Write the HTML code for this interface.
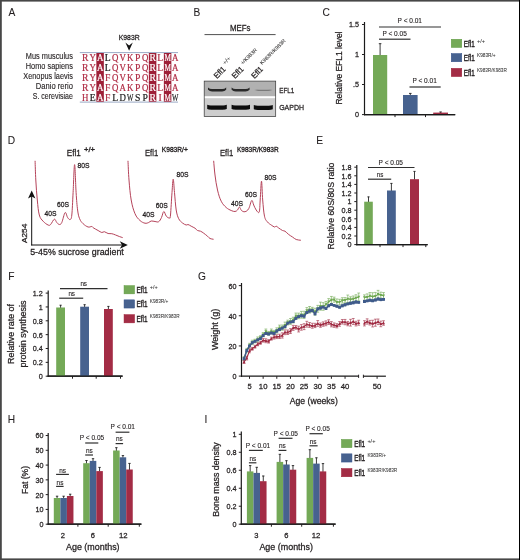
<!DOCTYPE html>
<html lang="en">
<head>
<meta charset="utf-8">
<title>Efl1 K983R figure</title>
<style>
html,body{margin:0;padding:0;background:#fff;}
body{width:520px;height:560px;overflow:hidden;}
svg{display:block;font-family:"Liberation Sans",sans-serif;fill:#231f20;}
text{stroke:#231f20;stroke-width:0.26px;}
</style>
</head>
<body>
<svg width="520" height="560" viewBox="0 0 520 560">
<rect x="0" y="0" width="520" height="560" fill="#ffffff"/>
<rect x="0" y="0" width="520" height="1.6" fill="#474747"/>
<rect x="0" y="0" width="1.8" height="560" fill="#474747"/>
<rect x="0" y="558.4" width="520" height="1.6" fill="#474747"/>
<rect x="519" y="0" width="1" height="560" fill="#000000"/>
<text x="8.40" y="16.00" font-size="10.2" style="stroke-width:0.08px;">A</text>
<text x="193.50" y="15.60" font-size="10.2" style="stroke-width:0.08px;">B</text>
<text x="322.60" y="15.60" font-size="10.2" style="stroke-width:0.08px;">C</text>
<text x="7.80" y="143.80" font-size="10.2" style="stroke-width:0.08px;">D</text>
<text x="316.20" y="143.80" font-size="10.2" style="stroke-width:0.08px;">E</text>
<text x="8.20" y="279.60" font-size="10.2" style="stroke-width:0.08px;">F</text>
<text x="198.00" y="279.60" font-size="10.2" style="stroke-width:0.08px;">G</text>
<text x="7.80" y="423.20" font-size="10.2" style="stroke-width:0.08px;">H</text>
<text x="204.40" y="423.20" font-size="10.2" style="stroke-width:0.08px;">I</text>
<text x="72.90" y="58.90" font-size="8.2" text-anchor="end" textLength="47.10" lengthAdjust="spacingAndGlyphs" style="stroke-width:0.12px;">Mus musculus</text>
<text x="72.90" y="68.70" font-size="8.2" text-anchor="end" textLength="47.10" lengthAdjust="spacingAndGlyphs" style="stroke-width:0.12px;">Homo sapiens</text>
<text x="72.90" y="78.80" font-size="8.2" text-anchor="end" textLength="49.60" lengthAdjust="spacingAndGlyphs" style="stroke-width:0.12px;">Xenopus laevis</text>
<text x="72.90" y="88.80" font-size="8.2" text-anchor="end" textLength="37.10" lengthAdjust="spacingAndGlyphs" style="stroke-width:0.12px;">Danio rerio</text>
<text x="72.90" y="98.80" font-size="8.2" text-anchor="end" textLength="40.10" lengthAdjust="spacingAndGlyphs" style="stroke-width:0.12px;">S. cerevisiae</text>
<line x1="79.80" y1="52.60" x2="178.00" y2="52.60" stroke="#7f93b6" stroke-width="0.8"/>
<line x1="79.80" y1="102.10" x2="178.00" y2="102.10" stroke="#7f93b6" stroke-width="0.8"/>
<rect x="96.35" y="53.00" width="7.50" height="48.70" fill="#9e2038"/>
<rect x="148.85" y="53.00" width="7.50" height="48.70" fill="#9e2038"/>
<rect x="163.85" y="53.00" width="7.50" height="48.70" fill="#9e2038"/>
<text x="81.90 89.40 96.90 104.64 111.90 119.40 126.90 134.90 141.90 149.40 157.14 164.40 171.90" y="61.00" font-size="9.7" font-family="Liberation Serif, serif" style="stroke-width:0.2px"><tspan fill="#b02c44" style="stroke:#b02c44" textLength="6.4" lengthAdjust="spacingAndGlyphs">R</tspan><tspan fill="#b02c44" style="stroke:#b02c44" textLength="6.4" lengthAdjust="spacingAndGlyphs">Y</tspan><tspan fill="#ffffff" style="stroke:#ffffff" textLength="6.4" lengthAdjust="spacingAndGlyphs">A</tspan><tspan fill="#1a1a1a" style="stroke:#1a1a1a">L</tspan><tspan fill="#b02c44" style="stroke:#b02c44" textLength="6.4" lengthAdjust="spacingAndGlyphs">Q</tspan><tspan fill="#b02c44" style="stroke:#b02c44" textLength="6.4" lengthAdjust="spacingAndGlyphs">V</tspan><tspan fill="#b02c44" style="stroke:#b02c44" textLength="6.4" lengthAdjust="spacingAndGlyphs">K</tspan><tspan fill="#b02c44" style="stroke:#b02c44">P</tspan><tspan fill="#b02c44" style="stroke:#b02c44" textLength="6.4" lengthAdjust="spacingAndGlyphs">Q</tspan><tspan fill="#ffffff" style="stroke:#ffffff" textLength="6.4" lengthAdjust="spacingAndGlyphs">R</tspan><tspan fill="#b02c44" style="stroke:#b02c44">L</tspan><tspan fill="#ffffff" style="stroke:#ffffff" textLength="6.4" lengthAdjust="spacingAndGlyphs">M</tspan><tspan fill="#b02c44" style="stroke:#b02c44" textLength="6.4" lengthAdjust="spacingAndGlyphs">A</tspan></text>
<text x="81.90 89.40 96.90 104.64 111.90 119.40 126.90 134.90 141.90 149.40 157.14 164.40 171.90" y="70.80" font-size="9.7" font-family="Liberation Serif, serif" style="stroke-width:0.2px"><tspan fill="#b02c44" style="stroke:#b02c44" textLength="6.4" lengthAdjust="spacingAndGlyphs">R</tspan><tspan fill="#b02c44" style="stroke:#b02c44" textLength="6.4" lengthAdjust="spacingAndGlyphs">Y</tspan><tspan fill="#ffffff" style="stroke:#ffffff" textLength="6.4" lengthAdjust="spacingAndGlyphs">A</tspan><tspan fill="#1a1a1a" style="stroke:#1a1a1a">L</tspan><tspan fill="#b02c44" style="stroke:#b02c44" textLength="6.4" lengthAdjust="spacingAndGlyphs">Q</tspan><tspan fill="#b02c44" style="stroke:#b02c44" textLength="6.4" lengthAdjust="spacingAndGlyphs">V</tspan><tspan fill="#b02c44" style="stroke:#b02c44" textLength="6.4" lengthAdjust="spacingAndGlyphs">K</tspan><tspan fill="#b02c44" style="stroke:#b02c44">P</tspan><tspan fill="#b02c44" style="stroke:#b02c44" textLength="6.4" lengthAdjust="spacingAndGlyphs">Q</tspan><tspan fill="#ffffff" style="stroke:#ffffff" textLength="6.4" lengthAdjust="spacingAndGlyphs">R</tspan><tspan fill="#b02c44" style="stroke:#b02c44">L</tspan><tspan fill="#ffffff" style="stroke:#ffffff" textLength="6.4" lengthAdjust="spacingAndGlyphs">M</tspan><tspan fill="#b02c44" style="stroke:#b02c44" textLength="6.4" lengthAdjust="spacingAndGlyphs">A</tspan></text>
<text x="81.90 89.40 96.90 104.90 111.90 119.40 126.90 134.90 141.90 149.40 157.14 164.40 171.90" y="80.90" font-size="9.7" font-family="Liberation Serif, serif" style="stroke-width:0.2px"><tspan fill="#b02c44" style="stroke:#b02c44" textLength="6.4" lengthAdjust="spacingAndGlyphs">R</tspan><tspan fill="#b02c44" style="stroke:#b02c44" textLength="6.4" lengthAdjust="spacingAndGlyphs">Y</tspan><tspan fill="#ffffff" style="stroke:#ffffff" textLength="6.4" lengthAdjust="spacingAndGlyphs">A</tspan><tspan fill="#b02c44" style="stroke:#b02c44">F</tspan><tspan fill="#b02c44" style="stroke:#b02c44" textLength="6.4" lengthAdjust="spacingAndGlyphs">Q</tspan><tspan fill="#b02c44" style="stroke:#b02c44" textLength="6.4" lengthAdjust="spacingAndGlyphs">V</tspan><tspan fill="#b02c44" style="stroke:#b02c44" textLength="6.4" lengthAdjust="spacingAndGlyphs">K</tspan><tspan fill="#b02c44" style="stroke:#b02c44">P</tspan><tspan fill="#b02c44" style="stroke:#b02c44" textLength="6.4" lengthAdjust="spacingAndGlyphs">Q</tspan><tspan fill="#ffffff" style="stroke:#ffffff" textLength="6.4" lengthAdjust="spacingAndGlyphs">R</tspan><tspan fill="#b02c44" style="stroke:#b02c44">L</tspan><tspan fill="#ffffff" style="stroke:#ffffff" textLength="6.4" lengthAdjust="spacingAndGlyphs">M</tspan><tspan fill="#b02c44" style="stroke:#b02c44" textLength="6.4" lengthAdjust="spacingAndGlyphs">A</tspan></text>
<text x="81.90 89.40 96.90 104.90 111.90 119.40 126.90 134.90 141.90 149.40 157.14 164.40 171.90" y="90.90" font-size="9.7" font-family="Liberation Serif, serif" style="stroke-width:0.2px"><tspan fill="#b02c44" style="stroke:#b02c44" textLength="6.4" lengthAdjust="spacingAndGlyphs">R</tspan><tspan fill="#b02c44" style="stroke:#b02c44" textLength="6.4" lengthAdjust="spacingAndGlyphs">Y</tspan><tspan fill="#ffffff" style="stroke:#ffffff" textLength="6.4" lengthAdjust="spacingAndGlyphs">A</tspan><tspan fill="#b02c44" style="stroke:#b02c44">F</tspan><tspan fill="#b02c44" style="stroke:#b02c44" textLength="6.4" lengthAdjust="spacingAndGlyphs">Q</tspan><tspan fill="#b02c44" style="stroke:#b02c44" textLength="6.4" lengthAdjust="spacingAndGlyphs">A</tspan><tspan fill="#b02c44" style="stroke:#b02c44" textLength="6.4" lengthAdjust="spacingAndGlyphs">K</tspan><tspan fill="#b02c44" style="stroke:#b02c44">P</tspan><tspan fill="#b02c44" style="stroke:#b02c44" textLength="6.4" lengthAdjust="spacingAndGlyphs">Q</tspan><tspan fill="#ffffff" style="stroke:#ffffff" textLength="6.4" lengthAdjust="spacingAndGlyphs">R</tspan><tspan fill="#b02c44" style="stroke:#b02c44">L</tspan><tspan fill="#ffffff" style="stroke:#ffffff" textLength="6.4" lengthAdjust="spacingAndGlyphs">M</tspan><tspan fill="#b02c44" style="stroke:#b02c44" textLength="6.4" lengthAdjust="spacingAndGlyphs">A</tspan></text>
<text x="81.90 89.64 96.90 104.90 112.14 119.40 126.90 134.90 142.40 149.40 158.48 164.40 171.90" y="100.90" font-size="9.7" font-family="Liberation Serif, serif" style="stroke-width:0.2px"><tspan fill="#b02c44" style="stroke:#b02c44" textLength="6.4" lengthAdjust="spacingAndGlyphs">H</tspan><tspan fill="#1a1a1a" style="stroke:#1a1a1a">E</tspan><tspan fill="#ffffff" style="stroke:#ffffff" textLength="6.4" lengthAdjust="spacingAndGlyphs">A</tspan><tspan fill="#b02c44" style="stroke:#b02c44">F</tspan><tspan fill="#1a1a1a" style="stroke:#1a1a1a">L</tspan><tspan fill="#1a1a1a" style="stroke:#1a1a1a" textLength="6.4" lengthAdjust="spacingAndGlyphs">D</tspan><tspan fill="#1a1a1a" style="stroke:#1a1a1a" textLength="6.4" lengthAdjust="spacingAndGlyphs">W</tspan><tspan fill="#1a1a1a" style="stroke:#1a1a1a">SP</tspan><tspan fill="#ffffff" style="stroke:#ffffff" textLength="6.4" lengthAdjust="spacingAndGlyphs">R</tspan><tspan fill="#b02c44" style="stroke:#b02c44">I</tspan><tspan fill="#ffffff" style="stroke:#ffffff" textLength="6.4" lengthAdjust="spacingAndGlyphs">M</tspan><tspan fill="#1a1a1a" style="stroke:#1a1a1a" textLength="6.4" lengthAdjust="spacingAndGlyphs">W</tspan></text>
<text x="129.20" y="40.00" font-size="7.4" text-anchor="middle" textLength="21.00" lengthAdjust="spacingAndGlyphs">K983R</text>
<path d="M129.1 50.8 L125.4 42.6 L129.1 45.4 L132.8 42.6 Z" fill="#111"/>
<text x="240.20" y="30.60" font-size="9" text-anchor="middle" textLength="20.60" lengthAdjust="spacingAndGlyphs">MEFs</text>
<line x1="204.50" y1="34.60" x2="275.60" y2="34.60" stroke="#222" stroke-width="0.8"/>
<g transform="translate(217.00 78.90) rotate(-45)">
<text x="0" y="0" font-size="8" textLength="13.00" lengthAdjust="spacingAndGlyphs">Efl1</text>
<text x="15.20" y="-4.40" font-size="5.2" textLength="9.00" lengthAdjust="spacingAndGlyphs" style="stroke-width:0.05px" fill="#333">+/+</text>
</g>
<g transform="translate(235.00 78.90) rotate(-45)">
<text x="0" y="0" font-size="8" textLength="13.00" lengthAdjust="spacingAndGlyphs">Efl1</text>
<text x="15.20" y="-4.40" font-size="5.2" textLength="21.00" lengthAdjust="spacingAndGlyphs" style="stroke-width:0.05px" fill="#333">+/K983R</text>
</g>
<g transform="translate(254.40 78.90) rotate(-45)">
<text x="0" y="0" font-size="8" textLength="13.00" lengthAdjust="spacingAndGlyphs">Efl1</text>
<text x="15.20" y="-4.40" font-size="5.2" textLength="34.00" lengthAdjust="spacingAndGlyphs" style="stroke-width:0.05px" fill="#333">K983R/K983R</text>
</g>
<defs><filter id="bl" x="-20%" y="-100%" width="140%" height="300%"><feGaussianBlur stdDeviation="0.7 0.55"/></filter><filter id="bl2" x="-20%" y="-100%" width="140%" height="300%"><feGaussianBlur stdDeviation="0.9 0.6"/></filter></defs>
<rect x="204.20" y="81.10" width="71.50" height="35.50" fill="#ffffff"/>
<rect x="204.20" y="81.10" width="71.50" height="15.10" fill="#b1b1b1"/>
<rect x="204.20" y="98.20" width="71.50" height="18.40" fill="#cdcdcd"/>
<path d="M208.00 87.40 Q209.60 89.00 212.00 89.00 L222.20 89.00 Q224.60 89.00 226.20 87.40 L226.20 89.80 Q224.60 91.40 222.20 91.40 L212.00 91.40 Q209.60 91.40 208.00 89.80 Z" fill="#262626" filter="url(#bl)"/>
<path d="M231.60 87.40 Q233.20 89.00 235.60 89.00 L245.60 89.00 Q248.00 89.00 249.60 87.40 L249.60 89.80 Q248.00 91.40 245.60 91.40 L235.60 91.40 Q233.20 91.40 231.60 89.80 Z" fill="#2a2a2a" filter="url(#bl)"/>
<path d="M256.00 89.25 Q257.60 89.75 260.00 89.75 L267.00 89.75 Q269.40 89.75 271.00 89.25 L271.00 90.55 Q269.40 91.05 267.00 91.05 L260.00 91.05 Q257.60 91.05 256.00 90.55 Z" fill="#7a7a7a" filter="url(#bl2)"/>
<path d="M207.20 104.80 Q208.80 105.60 211.20 105.60 L222.80 105.60 Q225.20 105.60 226.80 104.80 L226.80 109.00 Q225.20 109.80 222.80 109.80 L211.20 109.80 Q208.80 109.80 207.20 109.00 Z" fill="#0c0c0c" filter="url(#bl)"/>
<path d="M231.60 104.80 Q233.20 105.60 235.60 105.60 L246.00 105.60 Q248.40 105.60 250.00 104.80 L250.00 109.00 Q248.40 109.80 246.00 109.80 L235.60 109.80 Q233.20 109.80 231.60 109.00 Z" fill="#0c0c0c" filter="url(#bl)"/>
<path d="M253.80 105.00 Q255.40 105.80 257.80 105.80 L268.80 105.80 Q271.20 105.80 272.80 105.00 L272.80 109.20 Q271.20 110.00 268.80 110.00 L257.80 110.00 Q255.40 110.00 253.80 109.20 Z" fill="#0c0c0c" filter="url(#bl)"/>
<rect x="204.2" y="81.1" width="71.5" height="35.5" fill="none" stroke="#333" stroke-width="0.7"/>
<text x="279.20" y="93.10" font-size="8" textLength="15.00" lengthAdjust="spacingAndGlyphs">EFL1</text>
<text x="279.20" y="109.70" font-size="8" textLength="24.80" lengthAdjust="spacingAndGlyphs">GAPDH</text>
<line x1="364.50" y1="22.00" x2="364.50" y2="115.20" stroke="#1a1a1a" stroke-width="1.2"/>
<line x1="363.90" y1="114.60" x2="455.20" y2="114.60" stroke="#1a1a1a" stroke-width="1.2"/>
<line x1="362.00" y1="24.50" x2="364.50" y2="24.50" stroke="#231f20" stroke-width="1.0"/>
<text x="358.90" y="27.38" font-size="8" text-anchor="end" textLength="10.01" lengthAdjust="spacingAndGlyphs">1.5</text>
<line x1="362.00" y1="54.50" x2="364.50" y2="54.50" stroke="#231f20" stroke-width="1.0"/>
<text x="358.90" y="57.38" font-size="8" text-anchor="end" textLength="4.00" lengthAdjust="spacingAndGlyphs">1</text>
<line x1="362.00" y1="84.50" x2="364.50" y2="84.50" stroke="#231f20" stroke-width="1.0"/>
<text x="358.90" y="87.38" font-size="8" text-anchor="end" textLength="6.00" lengthAdjust="spacingAndGlyphs">.5</text>
<line x1="362.00" y1="114.60" x2="364.50" y2="114.60" stroke="#231f20" stroke-width="1.0"/>
<text x="358.90" y="117.48" font-size="8" text-anchor="end" textLength="4.00" lengthAdjust="spacingAndGlyphs">0</text>
<line x1="395.00" y1="114.60" x2="395.00" y2="117.10" stroke="#231f20" stroke-width="1.0"/>
<line x1="425.50" y1="114.60" x2="425.50" y2="117.10" stroke="#231f20" stroke-width="1.0"/>
<line x1="380.10" y1="43.50" x2="380.10" y2="55.50" stroke="#262626" stroke-width="0.9"/>
<line x1="378.80" y1="43.70" x2="381.40" y2="43.70" stroke="#262626" stroke-width="0.9"/>
<rect x="373.00" y="55.00" width="14.20" height="59.60" fill="#74a957"/>
<line x1="410.30" y1="93.20" x2="410.30" y2="95.50" stroke="#262626" stroke-width="0.9"/>
<line x1="409.00" y1="93.40" x2="411.60" y2="93.40" stroke="#262626" stroke-width="0.9"/>
<rect x="403.00" y="95.00" width="14.60" height="19.60" fill="#47628f"/>
<line x1="440.60" y1="111.80" x2="440.60" y2="113.10" stroke="#262626" stroke-width="0.9"/>
<line x1="439.30" y1="112.00" x2="441.90" y2="112.00" stroke="#262626" stroke-width="0.9"/>
<rect x="433.20" y="112.60" width="14.80" height="2.00" fill="#a32c45"/>
<line x1="364.00" y1="114.60" x2="455.20" y2="114.60" stroke="#1a1a1a" stroke-width="1.2"/>
<text x="341.80" y="68.00" font-size="9" text-anchor="middle" textLength="73.00" lengthAdjust="spacingAndGlyphs" transform="rotate(-90 341.80 68.00)">Relative EFL1 level</text>
<line x1="379.00" y1="27.00" x2="441.00" y2="27.00" stroke="#303030" stroke-width="1.2"/>
<text x="409.80" y="23.40" font-size="7" text-anchor="middle" textLength="24.40" lengthAdjust="spacingAndGlyphs" style="stroke-width:0.12px;">P &lt; 0.01</text>
<line x1="379.00" y1="39.20" x2="410.50" y2="39.20" stroke="#303030" stroke-width="1.2"/>
<text x="394.60" y="35.60" font-size="7" text-anchor="middle" textLength="24.40" lengthAdjust="spacingAndGlyphs" style="stroke-width:0.12px;">P &lt; 0.05</text>
<line x1="409.50" y1="87.00" x2="440.70" y2="87.00" stroke="#303030" stroke-width="1.2"/>
<text x="424.60" y="83.40" font-size="7" text-anchor="middle" textLength="24.40" lengthAdjust="spacingAndGlyphs" style="stroke-width:0.12px;">P &lt; 0.01</text>
<rect x="451.25" y="39.25" width="10.50" height="8.20" fill="#74a957" stroke="#5f9a40" stroke-width="0.5"/>
<g transform="translate(463.80 46.70)">
<text x="0" y="0" font-size="8.8" textLength="10.90" lengthAdjust="spacingAndGlyphs" font-weight="normal" style="stroke-width:0.4px">Efl1</text>
<text x="13.20" y="-3.90" font-size="5.2" textLength="8.00" lengthAdjust="spacingAndGlyphs" style="stroke-width:0.05px" fill="#333">+/+</text>
</g>
<rect x="451.25" y="53.55" width="10.50" height="8.20" fill="#47628f" stroke="#33508a" stroke-width="0.5"/>
<g transform="translate(463.80 61.00)">
<text x="0" y="0" font-size="8.8" textLength="10.90" lengthAdjust="spacingAndGlyphs" font-weight="normal" style="stroke-width:0.4px">Efl1</text>
<text x="13.20" y="-3.90" font-size="5.2" textLength="18.60" lengthAdjust="spacingAndGlyphs" style="stroke-width:0.05px" fill="#333">K983R/+</text>
</g>
<rect x="451.25" y="68.35" width="10.50" height="8.20" fill="#a32c45" stroke="#9c1c34" stroke-width="0.5"/>
<g transform="translate(463.80 75.80)">
<text x="0" y="0" font-size="8.8" textLength="10.90" lengthAdjust="spacingAndGlyphs" font-weight="normal" style="stroke-width:0.4px">Efl1</text>
<text x="13.20" y="-3.90" font-size="5.2" textLength="29.80" lengthAdjust="spacingAndGlyphs" style="stroke-width:0.05px" fill="#333">K983R/K983R</text>
</g>
<path d="M35.10 161.20 C35.23 164.58 35.40 173.02 35.80 180.00 C36.20 186.98 36.67 193.70 37.30 200.00 C37.93 206.30 38.26 211.18 39.30 215.00 C40.34 218.82 41.52 219.40 43.10 221.20 C44.68 223.00 46.75 224.41 48.10 225.00 C49.45 225.59 49.48 225.54 50.60 224.50 C51.72 223.46 53.18 219.56 54.30 219.20 C55.42 218.84 55.90 221.55 56.80 222.50 C57.70 223.45 58.40 224.50 59.30 224.50 C60.20 224.50 60.76 224.64 61.80 222.50 C62.84 220.36 64.06 213.50 65.10 212.60 C66.14 211.70 66.70 216.26 67.60 217.50 C68.50 218.74 69.34 219.95 70.10 219.50 C70.86 219.05 71.26 219.86 71.80 215.00 C72.34 210.14 72.60 201.57 73.10 192.50 C73.60 183.43 74.06 164.60 74.60 164.60 C75.14 164.60 75.56 184.33 76.10 192.50 C76.64 200.67 76.97 205.28 77.60 210.00 C78.23 214.72 78.61 216.23 79.60 218.70 C80.59 221.17 81.57 222.21 83.10 223.70 C84.63 225.19 86.53 226.50 88.10 227.00 C89.67 227.50 90.81 226.32 91.80 226.50 C92.79 226.68 92.47 227.28 93.60 228.00 C94.73 228.72 96.62 229.69 98.10 230.50 C99.58 231.31 100.68 232.28 101.80 232.50 C102.92 232.72 103.17 231.52 104.30 231.70 C105.43 231.88 106.75 233.14 108.10 233.50 C109.45 233.86 110.45 233.43 111.80 233.70 C113.15 233.97 114.25 234.50 115.60 235.00 C116.95 235.50 118.09 236.05 119.30 236.50 C120.51 236.95 121.76 237.32 122.30 237.50" fill="none" stroke="#b5435a" stroke-width="1.0" stroke-linejoin="round" stroke-linecap="round"/>
<path d="M128.00 161.20 C128.18 164.58 128.42 173.02 129.00 180.00 C129.58 186.98 130.12 193.93 131.20 200.00 C132.28 206.07 133.42 210.01 135.00 213.70 C136.58 217.39 138.20 218.79 140.00 220.50 C141.80 222.21 143.43 222.84 145.00 223.20 C146.57 223.56 147.58 222.90 148.70 222.50 C149.82 222.10 150.07 221.18 151.20 221.00 C152.33 220.82 153.65 221.37 155.00 221.50 C156.35 221.63 157.53 222.42 158.70 221.70 C159.87 220.98 160.58 219.34 161.50 217.50 C162.42 215.66 162.94 211.73 163.80 211.50 C164.66 211.27 165.27 215.03 166.30 216.20 C167.33 217.37 168.74 218.22 169.50 218.00 C170.26 217.78 170.05 219.59 170.50 215.00 C170.95 210.41 171.51 198.94 172.00 192.50 C172.49 186.06 172.75 179.20 173.20 179.20 C173.65 179.20 173.96 186.96 174.50 192.50 C175.04 198.04 175.44 205.28 176.20 210.00 C176.96 214.72 177.57 216.36 178.70 218.70 C179.83 221.04 181.15 221.87 182.50 223.00 C183.85 224.13 185.21 224.73 186.20 225.00 C187.19 225.27 187.10 224.28 188.00 224.50 C188.90 224.72 189.94 225.53 191.20 226.20 C192.46 226.87 193.87 227.43 195.00 228.20 C196.13 228.97 196.51 229.96 197.50 230.50 C198.49 231.04 199.38 230.71 200.50 231.20 C201.62 231.69 202.44 232.30 203.70 233.20 C204.96 234.10 206.37 235.25 207.50 236.20 C208.63 237.15 208.97 237.96 210.00 238.50 C211.03 239.04 212.62 239.07 213.20 239.20" fill="none" stroke="#b5435a" stroke-width="1.0" stroke-linejoin="round" stroke-linecap="round"/>
<path d="M213.70 161.20 C213.93 163.68 214.32 169.82 215.00 175.00 C215.68 180.18 216.38 185.28 217.50 190.00 C218.62 194.72 219.63 198.05 221.20 201.20 C222.77 204.35 224.40 205.83 226.20 207.50 C228.00 209.17 229.62 209.78 231.20 210.50 C232.78 211.22 233.87 211.59 235.00 211.50 C236.13 211.41 236.69 210.81 237.50 210.00 C238.31 209.19 238.78 206.91 239.50 207.00 C240.22 207.09 240.51 209.65 241.50 210.50 C242.49 211.35 243.70 212.02 245.00 211.70 C246.30 211.38 247.49 210.72 248.70 208.70 C249.91 206.68 250.80 201.17 251.70 200.50 C252.60 199.83 252.89 203.29 253.70 205.00 C254.51 206.71 255.21 208.74 256.20 210.00 C257.19 211.26 258.48 213.80 259.20 212.00 C259.92 210.20 259.79 205.54 260.20 200.00 C260.61 194.46 261.05 181.20 261.50 181.20 C261.95 181.20 262.16 193.70 262.70 200.00 C263.24 206.30 263.64 212.24 264.50 216.20 C265.36 220.16 266.29 220.42 267.50 222.00 C268.71 223.58 269.94 224.10 271.20 225.00 C272.46 225.90 273.60 226.78 274.50 227.00 C275.40 227.22 275.44 226.02 276.20 226.20 C276.96 226.38 277.57 227.23 278.70 228.00 C279.83 228.77 281.37 229.92 282.50 230.50 C283.63 231.08 283.88 230.48 285.00 231.20 C286.12 231.92 287.35 233.46 288.70 234.50 C290.05 235.54 291.15 236.10 292.50 237.00 C293.85 237.90 294.76 238.92 296.20 239.50 C297.64 240.08 299.73 240.07 300.50 240.20" fill="none" stroke="#b5435a" stroke-width="1.0" stroke-linejoin="round" stroke-linecap="round"/>
<g transform="translate(66.80 155.60)">
<text x="0" y="0" font-size="9" textLength="14.00" lengthAdjust="spacingAndGlyphs">Efl1</text>
<text x="17.20" y="-3.40" font-size="6.4" textLength="11.00" lengthAdjust="spacingAndGlyphs" style="stroke-width:0.3px">+/+</text>
</g>
<g transform="translate(145.00 155.60)">
<text x="0" y="0" font-size="9" textLength="13.20" lengthAdjust="spacingAndGlyphs">Efl1</text>
<text x="16.80" y="-3.40" font-size="6.4" textLength="26.00" lengthAdjust="spacingAndGlyphs" style="stroke-width:0.3px">K983R/+</text>
</g>
<g transform="translate(220.00 155.60)">
<text x="0" y="0" font-size="9" textLength="13.20" lengthAdjust="spacingAndGlyphs">Efl1</text>
<text x="17.00" y="-3.40" font-size="6.4" textLength="41.60" lengthAdjust="spacingAndGlyphs" style="stroke-width:0.3px">K983R/K983R</text>
</g>
<text x="77.60" y="167.60" font-size="7" textLength="12.00" lengthAdjust="spacingAndGlyphs">80S</text>
<text x="57.00" y="207.20" font-size="7" textLength="12.00" lengthAdjust="spacingAndGlyphs">60S</text>
<text x="44.60" y="216.40" font-size="7" textLength="12.00" lengthAdjust="spacingAndGlyphs">40S</text>
<text x="176.50" y="177.20" font-size="7" textLength="12.00" lengthAdjust="spacingAndGlyphs">80S</text>
<text x="155.80" y="207.60" font-size="7" textLength="12.00" lengthAdjust="spacingAndGlyphs">60S</text>
<text x="142.60" y="216.60" font-size="7" textLength="12.00" lengthAdjust="spacingAndGlyphs">40S</text>
<text x="264.60" y="180.20" font-size="7" textLength="12.00" lengthAdjust="spacingAndGlyphs">80S</text>
<text x="245.00" y="196.80" font-size="7" textLength="12.00" lengthAdjust="spacingAndGlyphs">60S</text>
<text x="231.00" y="205.60" font-size="7" textLength="12.00" lengthAdjust="spacingAndGlyphs">40S</text>
<line x1="31.70" y1="245.40" x2="31.70" y2="196.00" stroke="#111" stroke-width="1.0"/>
<path d="M31.7 190.6 L28.0 198.6 L31.7 196.4 L35.4 198.6 Z" fill="#111"/>
<line x1="31.20" y1="245.00" x2="122.00" y2="245.00" stroke="#111" stroke-width="1.0"/>
<path d="M127.8 245 L119.8 241.3 L122.0 245 L119.8 248.7 Z" fill="#111"/>
<text x="27.20" y="233.40" font-size="8" text-anchor="middle" textLength="19.40" lengthAdjust="spacingAndGlyphs" transform="rotate(-90 27.20 233.40)">A254</text>
<text x="30.20" y="254.70" font-size="9" textLength="93.60" lengthAdjust="spacingAndGlyphs">5-45% sucrose gradient</text>
<line x1="356.80" y1="165.00" x2="356.80" y2="245.20" stroke="#1a1a1a" stroke-width="1.2"/>
<line x1="356.20" y1="244.60" x2="427.60" y2="244.60" stroke="#1a1a1a" stroke-width="1.2"/>
<line x1="354.30" y1="244.60" x2="356.80" y2="244.60" stroke="#231f20" stroke-width="1.0"/>
<text x="351.50" y="247.48" font-size="8" text-anchor="end" textLength="4.00" lengthAdjust="spacingAndGlyphs">0</text>
<line x1="354.30" y1="236.00" x2="356.80" y2="236.00" stroke="#231f20" stroke-width="1.0"/>
<text x="351.50" y="238.88" font-size="8" text-anchor="end" textLength="10.01" lengthAdjust="spacingAndGlyphs">0.2</text>
<line x1="354.30" y1="227.40" x2="356.80" y2="227.40" stroke="#231f20" stroke-width="1.0"/>
<text x="351.50" y="230.28" font-size="8" text-anchor="end" textLength="10.01" lengthAdjust="spacingAndGlyphs">0.4</text>
<line x1="354.30" y1="218.80" x2="356.80" y2="218.80" stroke="#231f20" stroke-width="1.0"/>
<text x="351.50" y="221.68" font-size="8" text-anchor="end" textLength="10.01" lengthAdjust="spacingAndGlyphs">0.6</text>
<line x1="354.30" y1="210.20" x2="356.80" y2="210.20" stroke="#231f20" stroke-width="1.0"/>
<text x="351.50" y="213.08" font-size="8" text-anchor="end" textLength="10.01" lengthAdjust="spacingAndGlyphs">0.8</text>
<line x1="354.30" y1="201.60" x2="356.80" y2="201.60" stroke="#231f20" stroke-width="1.0"/>
<text x="351.50" y="204.48" font-size="8" text-anchor="end" textLength="4.00" lengthAdjust="spacingAndGlyphs">1</text>
<line x1="354.30" y1="193.00" x2="356.80" y2="193.00" stroke="#231f20" stroke-width="1.0"/>
<text x="351.50" y="195.88" font-size="8" text-anchor="end" textLength="10.01" lengthAdjust="spacingAndGlyphs">1.2</text>
<line x1="354.30" y1="184.40" x2="356.80" y2="184.40" stroke="#231f20" stroke-width="1.0"/>
<text x="351.50" y="187.28" font-size="8" text-anchor="end" textLength="10.01" lengthAdjust="spacingAndGlyphs">1.4</text>
<line x1="354.30" y1="175.80" x2="356.80" y2="175.80" stroke="#231f20" stroke-width="1.0"/>
<text x="351.50" y="178.68" font-size="8" text-anchor="end" textLength="10.01" lengthAdjust="spacingAndGlyphs">1.6</text>
<line x1="354.30" y1="167.20" x2="356.80" y2="167.20" stroke="#231f20" stroke-width="1.0"/>
<text x="351.50" y="170.08" font-size="8" text-anchor="end" textLength="10.01" lengthAdjust="spacingAndGlyphs">1.8</text>
<line x1="380.00" y1="244.60" x2="380.00" y2="247.10" stroke="#231f20" stroke-width="1.0"/>
<line x1="403.00" y1="244.60" x2="403.00" y2="247.10" stroke="#231f20" stroke-width="1.0"/>
<line x1="425.80" y1="244.60" x2="425.80" y2="247.10" stroke="#231f20" stroke-width="1.0"/>
<line x1="368.50" y1="196.70" x2="368.50" y2="202.20" stroke="#262626" stroke-width="0.9"/>
<line x1="367.40" y1="196.90" x2="369.60" y2="196.90" stroke="#262626" stroke-width="0.9"/>
<rect x="364.20" y="201.70" width="8.60" height="42.90" fill="#74a957"/>
<line x1="391.40" y1="183.20" x2="391.40" y2="191.00" stroke="#262626" stroke-width="0.9"/>
<line x1="390.30" y1="183.40" x2="392.50" y2="183.40" stroke="#262626" stroke-width="0.9"/>
<rect x="387.00" y="190.50" width="8.80" height="54.10" fill="#47628f"/>
<line x1="414.50" y1="171.20" x2="414.50" y2="179.70" stroke="#262626" stroke-width="0.9"/>
<line x1="413.40" y1="171.40" x2="415.60" y2="171.40" stroke="#262626" stroke-width="0.9"/>
<rect x="410.00" y="179.20" width="9.00" height="65.40" fill="#a32c45"/>
<line x1="356.30" y1="244.60" x2="427.60" y2="244.60" stroke="#1a1a1a" stroke-width="1.2"/>
<text x="334.20" y="206.00" font-size="9" text-anchor="middle" textLength="87.00" lengthAdjust="spacingAndGlyphs" transform="rotate(-90 334.20 206.00)">Relative 60S/80S ratio</text>
<line x1="368.00" y1="167.50" x2="414.50" y2="167.50" stroke="#303030" stroke-width="1.2"/>
<text x="390.80" y="164.50" font-size="7" text-anchor="middle" textLength="24.40" lengthAdjust="spacingAndGlyphs" style="stroke-width:0.12px;">P &lt; 0.05</text>
<line x1="368.00" y1="179.20" x2="391.20" y2="179.20" stroke="#303030" stroke-width="1.2"/>
<text x="380.00" y="176.80" font-size="7" text-anchor="middle" textLength="6.60" lengthAdjust="spacingAndGlyphs" style="stroke-width:0.12px;">ns</text>
<line x1="48.20" y1="290.50" x2="48.20" y2="376.80" stroke="#1a1a1a" stroke-width="1.2"/>
<line x1="47.60" y1="376.20" x2="122.60" y2="376.20" stroke="#1a1a1a" stroke-width="1.2"/>
<line x1="45.70" y1="376.20" x2="48.20" y2="376.20" stroke="#231f20" stroke-width="1.0"/>
<text x="42.70" y="379.08" font-size="8" text-anchor="end" textLength="4.00" lengthAdjust="spacingAndGlyphs">0</text>
<line x1="45.70" y1="362.35" x2="48.20" y2="362.35" stroke="#231f20" stroke-width="1.0"/>
<text x="42.70" y="365.23" font-size="8" text-anchor="end" textLength="10.01" lengthAdjust="spacingAndGlyphs">0.2</text>
<line x1="45.70" y1="348.50" x2="48.20" y2="348.50" stroke="#231f20" stroke-width="1.0"/>
<text x="42.70" y="351.38" font-size="8" text-anchor="end" textLength="10.01" lengthAdjust="spacingAndGlyphs">0.4</text>
<line x1="45.70" y1="334.65" x2="48.20" y2="334.65" stroke="#231f20" stroke-width="1.0"/>
<text x="42.70" y="337.53" font-size="8" text-anchor="end" textLength="10.01" lengthAdjust="spacingAndGlyphs">0.6</text>
<line x1="45.70" y1="320.80" x2="48.20" y2="320.80" stroke="#231f20" stroke-width="1.0"/>
<text x="42.70" y="323.68" font-size="8" text-anchor="end" textLength="10.01" lengthAdjust="spacingAndGlyphs">0.8</text>
<line x1="45.70" y1="306.95" x2="48.20" y2="306.95" stroke="#231f20" stroke-width="1.0"/>
<text x="42.70" y="309.83" font-size="8" text-anchor="end" textLength="4.00" lengthAdjust="spacingAndGlyphs">1</text>
<line x1="45.70" y1="293.10" x2="48.20" y2="293.10" stroke="#231f20" stroke-width="1.0"/>
<text x="42.70" y="295.98" font-size="8" text-anchor="end" textLength="10.01" lengthAdjust="spacingAndGlyphs">1.2</text>
<line x1="72.50" y1="376.20" x2="72.50" y2="378.70" stroke="#231f20" stroke-width="1.0"/>
<line x1="96.20" y1="376.20" x2="96.20" y2="378.70" stroke="#231f20" stroke-width="1.0"/>
<line x1="120.50" y1="376.20" x2="120.50" y2="378.70" stroke="#231f20" stroke-width="1.0"/>
<line x1="60.60" y1="305.00" x2="60.60" y2="308.00" stroke="#262626" stroke-width="0.9"/>
<line x1="59.50" y1="305.20" x2="61.70" y2="305.20" stroke="#262626" stroke-width="0.9"/>
<rect x="56.20" y="307.50" width="8.80" height="68.70" fill="#74a957"/>
<line x1="84.60" y1="304.50" x2="84.60" y2="307.20" stroke="#262626" stroke-width="0.9"/>
<line x1="83.50" y1="304.70" x2="85.70" y2="304.70" stroke="#262626" stroke-width="0.9"/>
<rect x="80.20" y="306.70" width="8.80" height="69.50" fill="#47628f"/>
<line x1="108.40" y1="306.20" x2="108.40" y2="309.50" stroke="#262626" stroke-width="0.9"/>
<line x1="107.30" y1="306.40" x2="109.50" y2="306.40" stroke="#262626" stroke-width="0.9"/>
<rect x="104.00" y="309.00" width="8.80" height="67.20" fill="#a32c45"/>
<line x1="47.70" y1="376.20" x2="122.60" y2="376.20" stroke="#1a1a1a" stroke-width="1.2"/>
<text x="14.40" y="334.00" font-size="9" text-anchor="middle" textLength="60.00" lengthAdjust="spacingAndGlyphs" transform="rotate(-90 14.40 334.00)">Relative rate of</text>
<text x="26.10" y="334.00" font-size="9" text-anchor="middle" textLength="67.00" lengthAdjust="spacingAndGlyphs" transform="rotate(-90 26.10 334.00)">protein synthesis</text>
<line x1="60.00" y1="288.70" x2="107.50" y2="288.70" stroke="#303030" stroke-width="1.2"/>
<text x="83.70" y="286.10" font-size="7" text-anchor="middle" textLength="6.60" lengthAdjust="spacingAndGlyphs" style="stroke-width:0.12px;">ns</text>
<line x1="59.20" y1="298.20" x2="83.20" y2="298.20" stroke="#303030" stroke-width="1.2"/>
<text x="71.70" y="295.60" font-size="7" text-anchor="middle" textLength="6.60" lengthAdjust="spacingAndGlyphs" style="stroke-width:0.12px;">ns</text>
<rect x="124.05" y="285.65" width="10.50" height="8.20" fill="#74a957" stroke="#5f9a40" stroke-width="0.5"/>
<g transform="translate(136.60 293.10)">
<text x="0" y="0" font-size="8.8" textLength="10.90" lengthAdjust="spacingAndGlyphs" font-weight="normal" style="stroke-width:0.4px">Efl1</text>
<text x="13.20" y="-3.90" font-size="5.2" textLength="8.00" lengthAdjust="spacingAndGlyphs" style="stroke-width:0.05px" fill="#333">+/+</text>
</g>
<rect x="124.05" y="299.85" width="10.50" height="8.20" fill="#47628f" stroke="#33508a" stroke-width="0.5"/>
<g transform="translate(136.60 307.30)">
<text x="0" y="0" font-size="8.8" textLength="10.90" lengthAdjust="spacingAndGlyphs" font-weight="normal" style="stroke-width:0.4px">Efl1</text>
<text x="13.20" y="-3.90" font-size="5.2" textLength="18.60" lengthAdjust="spacingAndGlyphs" style="stroke-width:0.05px" fill="#333">K983R/+</text>
</g>
<rect x="124.05" y="314.65" width="10.50" height="8.20" fill="#a32c45" stroke="#9c1c34" stroke-width="0.5"/>
<g transform="translate(136.60 322.10)">
<text x="0" y="0" font-size="8.8" textLength="10.90" lengthAdjust="spacingAndGlyphs" font-weight="normal" style="stroke-width:0.4px">Efl1</text>
<text x="13.20" y="-3.90" font-size="5.2" textLength="29.80" lengthAdjust="spacingAndGlyphs" style="stroke-width:0.05px" fill="#333">K983R/K983R</text>
</g>
<line x1="241.50" y1="283.00" x2="241.50" y2="376.80" stroke="#1a1a1a" stroke-width="1.2"/>
<line x1="238.80" y1="376.10" x2="241.50" y2="376.10" stroke="#231f20" stroke-width="1.0"/>
<text x="236.40" y="379.00" font-size="8" text-anchor="end" textLength="4.00" lengthAdjust="spacingAndGlyphs">0</text>
<line x1="238.80" y1="345.94" x2="241.50" y2="345.94" stroke="#231f20" stroke-width="1.0"/>
<text x="236.40" y="348.84" font-size="8" text-anchor="end" textLength="8.01" lengthAdjust="spacingAndGlyphs">20</text>
<line x1="238.80" y1="315.78" x2="241.50" y2="315.78" stroke="#231f20" stroke-width="1.0"/>
<text x="236.40" y="318.68" font-size="8" text-anchor="end" textLength="8.01" lengthAdjust="spacingAndGlyphs">40</text>
<line x1="238.80" y1="285.62" x2="241.50" y2="285.62" stroke="#231f20" stroke-width="1.0"/>
<text x="236.40" y="288.52" font-size="8" text-anchor="end" textLength="8.01" lengthAdjust="spacingAndGlyphs">60</text>
<line x1="241.00" y1="376.20" x2="358.60" y2="376.20" stroke="#1a1a1a" stroke-width="1.2"/>
<line x1="358.60" y1="374.70" x2="358.60" y2="377.90" stroke="#231f20" stroke-width="1.0"/>
<line x1="363.40" y1="376.20" x2="385.90" y2="376.20" stroke="#1a1a1a" stroke-width="1.2"/>
<line x1="363.40" y1="374.70" x2="363.40" y2="377.90" stroke="#231f20" stroke-width="1.0"/>
<line x1="249.50" y1="376.20" x2="249.50" y2="378.80" stroke="#231f20" stroke-width="1.0"/>
<text x="249.50" y="389.20" font-size="8" text-anchor="middle" textLength="4.20" lengthAdjust="spacingAndGlyphs">5</text>
<line x1="263.15" y1="376.20" x2="263.15" y2="378.80" stroke="#231f20" stroke-width="1.0"/>
<text x="263.15" y="389.20" font-size="8" text-anchor="middle" textLength="8.60" lengthAdjust="spacingAndGlyphs">10</text>
<line x1="276.80" y1="376.20" x2="276.80" y2="378.80" stroke="#231f20" stroke-width="1.0"/>
<text x="276.80" y="389.20" font-size="8" text-anchor="middle" textLength="8.60" lengthAdjust="spacingAndGlyphs">15</text>
<line x1="290.45" y1="376.20" x2="290.45" y2="378.80" stroke="#231f20" stroke-width="1.0"/>
<text x="290.45" y="389.20" font-size="8" text-anchor="middle" textLength="8.60" lengthAdjust="spacingAndGlyphs">20</text>
<line x1="304.10" y1="376.20" x2="304.10" y2="378.80" stroke="#231f20" stroke-width="1.0"/>
<text x="304.10" y="389.20" font-size="8" text-anchor="middle" textLength="8.60" lengthAdjust="spacingAndGlyphs">25</text>
<line x1="317.75" y1="376.20" x2="317.75" y2="378.80" stroke="#231f20" stroke-width="1.0"/>
<text x="317.75" y="389.20" font-size="8" text-anchor="middle" textLength="8.60" lengthAdjust="spacingAndGlyphs">30</text>
<line x1="331.40" y1="376.20" x2="331.40" y2="378.80" stroke="#231f20" stroke-width="1.0"/>
<text x="331.40" y="389.20" font-size="8" text-anchor="middle" textLength="8.60" lengthAdjust="spacingAndGlyphs">35</text>
<line x1="345.05" y1="376.20" x2="345.05" y2="378.80" stroke="#231f20" stroke-width="1.0"/>
<text x="345.05" y="389.20" font-size="8" text-anchor="middle" textLength="8.60" lengthAdjust="spacingAndGlyphs">40</text>
<line x1="377.10" y1="376.20" x2="377.10" y2="378.80" stroke="#231f20" stroke-width="1.0"/>
<text x="377.10" y="389.20" font-size="8" text-anchor="middle" textLength="8.60" lengthAdjust="spacingAndGlyphs">50</text>
<text x="313.80" y="403.60" font-size="9" text-anchor="middle" textLength="48.00" lengthAdjust="spacingAndGlyphs">Age (weeks)</text>
<text x="218.40" y="329.40" font-size="9" text-anchor="middle" textLength="41.40" lengthAdjust="spacingAndGlyphs" transform="rotate(-90 218.40 329.40)">Weight (g)</text>
<path d="M244.04 360.39V356.61M242.64 360.39h2.80M242.64 356.61h2.80M246.77 352.21V348.42M245.37 352.21h2.80M245.37 348.42h2.80M249.50 347.89V343.33M248.10 347.89h2.80M248.10 343.33h2.80M252.23 344.62V340.22M250.83 344.62h2.80M250.83 340.22h2.80M254.96 342.87V339.25M253.56 342.87h2.80M253.56 339.25h2.80M257.69 342.11V336.97M256.29 342.11h2.80M256.29 336.97h2.80M260.42 339.16V335.72M259.02 339.16h2.80M259.02 335.72h2.80M263.15 336.73V332.56M261.75 336.73h2.80M261.75 332.56h2.80M265.88 334.05V329.03M264.48 334.05h2.80M264.48 329.03h2.80M268.61 335.19V331.43M267.21 335.19h2.80M267.21 331.43h2.80M271.34 333.66V329.03M269.94 333.66h2.80M269.94 329.03h2.80M274.07 334.01V330.36M272.67 334.01h2.80M272.67 330.36h2.80M276.80 333.09V327.83M275.40 333.09h2.80M275.40 327.83h2.80M279.53 330.72V325.11M278.13 330.72h2.80M278.13 325.11h2.80M282.26 330.24V325.00M280.86 330.24h2.80M280.86 325.00h2.80M284.99 328.27V322.14M283.59 328.27h2.80M283.59 322.14h2.80M287.72 324.93V320.16M286.32 324.93h2.80M286.32 320.16h2.80M290.45 324.38V318.49M289.05 324.38h2.80M289.05 318.49h2.80M293.18 322.93V317.21M291.78 322.93h2.80M291.78 317.21h2.80M295.91 318.86V313.07M294.51 318.86h2.80M294.51 313.07h2.80M298.64 318.67V313.13M297.24 318.67h2.80M297.24 313.13h2.80M301.37 318.13V311.39M299.97 318.13h2.80M299.97 311.39h2.80M304.10 318.43V311.26M302.70 318.43h2.80M302.70 311.26h2.80M306.83 313.47V307.58M305.43 313.47h2.80M305.43 307.58h2.80M309.56 313.08V306.51M308.16 313.08h2.80M308.16 306.51h2.80M312.29 312.13V307.32M310.89 312.13h2.80M310.89 307.32h2.80M315.02 315.13V308.23M313.62 315.13h2.80M313.62 308.23h2.80M317.75 312.22V305.38M316.35 312.22h2.80M316.35 305.38h2.80M320.48 310.20V302.13M319.08 310.20h2.80M319.08 302.13h2.80M323.21 310.28V302.65M321.81 310.28h2.80M321.81 302.65h2.80M325.94 307.41V301.45M324.54 307.41h2.80M324.54 301.45h2.80M328.67 304.91V298.62M327.27 304.91h2.80M327.27 298.62h2.80M331.40 303.68V296.44M330.00 303.68h2.80M330.00 296.44h2.80M334.13 302.20V297.12M332.73 302.20h2.80M332.73 297.12h2.80M336.86 305.48V298.94M335.46 305.48h2.80M335.46 298.94h2.80M339.59 304.87V299.30M338.19 304.87h2.80M338.19 299.30h2.80M342.32 303.12V297.72M340.92 303.12h2.80M340.92 297.72h2.80M345.05 302.80V297.60M343.65 302.80h2.80M343.65 297.60h2.80M347.78 302.62V295.05M346.38 302.62h2.80M346.38 295.05h2.80M350.51 302.20V296.76M349.11 302.20h2.80M349.11 296.76h2.80M353.24 301.80V295.97M351.84 301.80h2.80M351.84 295.97h2.80M355.97 301.05V294.74M354.57 301.05h2.80M354.57 294.74h2.80M358.70 300.94V293.02M357.30 300.94h2.80M357.30 293.02h2.80M364.43 300.16V294.88M363.03 300.16h2.80M363.03 294.88h2.80M367.16 300.41V293.90M365.76 300.41h2.80M365.76 293.90h2.80M369.89 299.39V292.55M368.49 299.39h2.80M368.49 292.55h2.80M372.62 300.69V292.73M371.22 300.69h2.80M371.22 292.73h2.80M375.35 300.15V292.41M373.95 300.15h2.80M373.95 292.41h2.80M378.08 298.26V290.37M376.68 298.26h2.80M376.68 290.37h2.80M380.81 298.09V292.16M379.41 298.09h2.80M379.41 292.16h2.80M383.54 298.98V292.59M382.14 298.98h2.80M382.14 292.59h2.80" fill="none" stroke="#6fa851" stroke-width="0.6"/>
<path d="M244.04 358.50 L246.77 350.31 L249.50 345.61 L252.23 342.42 L254.96 341.06 L257.69 339.54 L260.42 337.44 L263.15 334.65 L265.88 331.54 L268.61 333.31 L271.34 331.34 L274.07 332.19 L276.80 330.46 L279.53 327.92 L282.26 327.62 L284.99 325.20 L287.72 322.54 L290.45 321.43 L293.18 320.07 L295.91 315.97 L298.64 315.90 L301.37 314.76 L304.10 314.85 L306.83 310.52 L309.56 309.80 L312.29 309.72 L315.02 311.68 L317.75 308.80 L320.48 306.16 L323.21 306.46 L325.94 304.43 L328.67 301.77 L331.40 300.06 L334.13 299.66 L336.86 302.21 L339.59 302.09 L342.32 300.42 L345.05 300.20 L347.78 298.84 L350.51 299.48 L353.24 298.88 L355.97 297.90 L358.70 296.98" fill="none" stroke="#6fa851" stroke-width="1.1" stroke-linejoin="round"/>
<path d="M364.43 297.52 L367.16 297.16 L369.89 295.97 L372.62 296.71 L375.35 296.28 L378.08 294.32 L380.81 295.12 L383.54 295.79" fill="none" stroke="#6fa851" stroke-width="1.1" stroke-linejoin="round"/>
<path d="M244.04 360.00l1.50 -2.70h-3.00zM246.77 351.81l1.50 -2.70h-3.00zM249.50 347.11l1.50 -2.70h-3.00zM252.23 343.92l1.50 -2.70h-3.00zM254.96 342.56l1.50 -2.70h-3.00zM257.69 341.04l1.50 -2.70h-3.00zM260.42 338.94l1.50 -2.70h-3.00zM263.15 336.15l1.50 -2.70h-3.00zM265.88 333.04l1.50 -2.70h-3.00zM268.61 334.81l1.50 -2.70h-3.00zM271.34 332.84l1.50 -2.70h-3.00zM274.07 333.69l1.50 -2.70h-3.00zM276.80 331.96l1.50 -2.70h-3.00zM279.53 329.42l1.50 -2.70h-3.00zM282.26 329.12l1.50 -2.70h-3.00zM284.99 326.70l1.50 -2.70h-3.00zM287.72 324.04l1.50 -2.70h-3.00zM290.45 322.93l1.50 -2.70h-3.00zM293.18 321.57l1.50 -2.70h-3.00zM295.91 317.47l1.50 -2.70h-3.00zM298.64 317.40l1.50 -2.70h-3.00zM301.37 316.26l1.50 -2.70h-3.00zM304.10 316.35l1.50 -2.70h-3.00zM306.83 312.02l1.50 -2.70h-3.00zM309.56 311.30l1.50 -2.70h-3.00zM312.29 311.22l1.50 -2.70h-3.00zM315.02 313.18l1.50 -2.70h-3.00zM317.75 310.30l1.50 -2.70h-3.00zM320.48 307.66l1.50 -2.70h-3.00zM323.21 307.96l1.50 -2.70h-3.00zM325.94 305.93l1.50 -2.70h-3.00zM328.67 303.27l1.50 -2.70h-3.00zM331.40 301.56l1.50 -2.70h-3.00zM334.13 301.16l1.50 -2.70h-3.00zM336.86 303.71l1.50 -2.70h-3.00zM339.59 303.59l1.50 -2.70h-3.00zM342.32 301.92l1.50 -2.70h-3.00zM345.05 301.70l1.50 -2.70h-3.00zM347.78 300.34l1.50 -2.70h-3.00zM350.51 300.98l1.50 -2.70h-3.00zM353.24 300.38l1.50 -2.70h-3.00zM355.97 299.40l1.50 -2.70h-3.00zM358.70 298.48l1.50 -2.70h-3.00zM364.43 299.02l1.50 -2.70h-3.00zM367.16 298.66l1.50 -2.70h-3.00zM369.89 297.47l1.50 -2.70h-3.00zM372.62 298.21l1.50 -2.70h-3.00zM375.35 297.78l1.50 -2.70h-3.00zM378.08 295.82l1.50 -2.70h-3.00zM380.81 296.62l1.50 -2.70h-3.00zM383.54 297.29l1.50 -2.70h-3.00z" fill="#6fa851" stroke="none"/>
<path d="M244.04 363.43V360.55M242.64 363.43h2.80M242.64 360.55h2.80M246.77 359.94V356.15M245.37 359.94h2.80M245.37 356.15h2.80M249.50 352.77V348.76M248.10 352.77h2.80M248.10 348.76h2.80M252.23 350.18V347.41M250.83 350.18h2.80M250.83 347.41h2.80M254.96 348.11V345.23M253.56 348.11h2.80M253.56 345.23h2.80M257.69 345.77V342.72M256.29 345.77h2.80M256.29 342.72h2.80M260.42 344.29V341.16M259.02 344.29h2.80M259.02 341.16h2.80M263.15 342.13V338.46M261.75 342.13h2.80M261.75 338.46h2.80M265.88 342.73V338.78M264.48 342.73h2.80M264.48 338.78h2.80M268.61 343.07V339.66M267.21 343.07h2.80M267.21 339.66h2.80M271.34 340.12V337.14M269.94 340.12h2.80M269.94 337.14h2.80M274.07 339.05V335.17M272.67 339.05h2.80M272.67 335.17h2.80M276.80 338.59V334.73M275.40 338.59h2.80M275.40 334.73h2.80M279.53 338.53V334.18M278.13 338.53h2.80M278.13 334.18h2.80M282.26 338.08V332.81M280.86 338.08h2.80M280.86 332.81h2.80M284.99 334.66V329.86M283.59 334.66h2.80M283.59 329.86h2.80M287.72 334.51V330.01M286.32 334.51h2.80M286.32 330.01h2.80M290.45 333.46V328.63M289.05 333.46h2.80M289.05 328.63h2.80M293.18 330.38V325.33M291.78 330.38h2.80M291.78 325.33h2.80M295.91 329.24V325.57M294.51 329.24h2.80M294.51 325.57h2.80M298.64 331.96V326.19M297.24 331.96h2.80M297.24 326.19h2.80M301.37 330.20V324.61M299.97 330.20h2.80M299.97 324.61h2.80M304.10 329.61V323.69M302.70 329.61h2.80M302.70 323.69h2.80M306.83 327.13V321.30M305.43 327.13h2.80M305.43 321.30h2.80M309.56 327.42V322.54M308.16 327.42h2.80M308.16 322.54h2.80M312.29 328.23V323.25M310.89 328.23h2.80M310.89 323.25h2.80M315.02 327.57V323.30M313.62 327.57h2.80M313.62 323.30h2.80M317.75 326.35V320.57M316.35 326.35h2.80M316.35 320.57h2.80M320.48 327.28V322.98M319.08 327.28h2.80M319.08 322.98h2.80M323.21 326.26V321.88M321.81 326.26h2.80M321.81 321.88h2.80M325.94 325.73V320.88M324.54 325.73h2.80M324.54 320.88h2.80M328.67 324.45V319.74M327.27 324.45h2.80M327.27 319.74h2.80M331.40 326.83V321.61M330.00 326.83h2.80M330.00 321.61h2.80M334.13 327.33V322.93M332.73 327.33h2.80M332.73 322.93h2.80M336.86 327.86V323.61M335.46 327.86h2.80M335.46 323.61h2.80M339.59 326.26V321.57M338.19 326.26h2.80M338.19 321.57h2.80M342.32 324.06V319.52M340.92 324.06h2.80M340.92 319.52h2.80M345.05 324.74V319.45M343.65 324.74h2.80M343.65 319.45h2.80M347.78 325.78V321.45M346.38 325.78h2.80M346.38 321.45h2.80M350.51 326.07V319.33M349.11 326.07h2.80M349.11 319.33h2.80M353.24 324.49V318.49M351.84 324.49h2.80M351.84 318.49h2.80M355.97 325.95V321.27M354.57 325.95h2.80M354.57 321.27h2.80M358.70 325.19V320.22M357.30 325.19h2.80M357.30 320.22h2.80M364.43 325.93V320.69M363.03 325.93h2.80M363.03 320.69h2.80M367.16 324.13V318.84M365.76 324.13h2.80M365.76 318.84h2.80M369.89 325.00V320.40M368.49 325.00h2.80M368.49 320.40h2.80M372.62 326.94V320.28M371.22 326.94h2.80M371.22 320.28h2.80M375.35 326.24V319.17M373.95 326.24h2.80M373.95 319.17h2.80M378.08 324.58V319.00M376.68 324.58h2.80M376.68 319.00h2.80M380.81 326.73V321.10M379.41 326.73h2.80M379.41 321.10h2.80M383.54 325.25V320.76M382.14 325.25h2.80M382.14 320.76h2.80" fill="none" stroke="#a02a42" stroke-width="0.6"/>
<path d="M244.04 361.99 L246.77 358.05 L249.50 350.77 L252.23 348.79 L254.96 346.67 L257.69 344.24 L260.42 342.73 L263.15 340.30 L265.88 340.75 L268.61 341.36 L271.34 338.63 L274.07 337.11 L276.80 336.66 L279.53 336.35 L282.26 335.44 L284.99 332.26 L287.72 332.26 L290.45 331.05 L293.18 327.86 L295.91 327.40 L298.64 329.07 L301.37 327.40 L304.10 326.65 L306.83 324.22 L309.56 324.98 L312.29 325.74 L315.02 325.43 L317.75 323.46 L320.48 325.13 L323.21 324.07 L325.94 323.31 L328.67 322.09 L331.40 324.22 L334.13 325.13 L336.86 325.74 L339.59 323.92 L342.32 321.79 L345.05 322.09 L347.78 323.61 L350.51 322.70 L353.24 321.49 L355.97 323.61 L358.70 322.70" fill="none" stroke="#a02a42" stroke-width="1.1" stroke-linejoin="round"/>
<path d="M364.43 323.31 L367.16 321.49 L369.89 322.70 L372.62 323.61 L375.35 322.70 L378.08 321.79 L380.81 323.92 L383.54 323.00" fill="none" stroke="#a02a42" stroke-width="1.1" stroke-linejoin="round"/>
<path d="M244.04 360.49l1.50 2.70h-3.00zM246.77 356.55l1.50 2.70h-3.00zM249.50 349.27l1.50 2.70h-3.00zM252.23 347.29l1.50 2.70h-3.00zM254.96 345.17l1.50 2.70h-3.00zM257.69 342.74l1.50 2.70h-3.00zM260.42 341.23l1.50 2.70h-3.00zM263.15 338.80l1.50 2.70h-3.00zM265.88 339.25l1.50 2.70h-3.00zM268.61 339.86l1.50 2.70h-3.00zM271.34 337.13l1.50 2.70h-3.00zM274.07 335.61l1.50 2.70h-3.00zM276.80 335.16l1.50 2.70h-3.00zM279.53 334.85l1.50 2.70h-3.00zM282.26 333.94l1.50 2.70h-3.00zM284.99 330.76l1.50 2.70h-3.00zM287.72 330.76l1.50 2.70h-3.00zM290.45 329.55l1.50 2.70h-3.00zM293.18 326.36l1.50 2.70h-3.00zM295.91 325.90l1.50 2.70h-3.00zM298.64 327.57l1.50 2.70h-3.00zM301.37 325.90l1.50 2.70h-3.00zM304.10 325.15l1.50 2.70h-3.00zM306.83 322.72l1.50 2.70h-3.00zM309.56 323.48l1.50 2.70h-3.00zM312.29 324.24l1.50 2.70h-3.00zM315.02 323.93l1.50 2.70h-3.00zM317.75 321.96l1.50 2.70h-3.00zM320.48 323.63l1.50 2.70h-3.00zM323.21 322.57l1.50 2.70h-3.00zM325.94 321.81l1.50 2.70h-3.00zM328.67 320.59l1.50 2.70h-3.00zM331.40 322.72l1.50 2.70h-3.00zM334.13 323.63l1.50 2.70h-3.00zM336.86 324.24l1.50 2.70h-3.00zM339.59 322.42l1.50 2.70h-3.00zM342.32 320.29l1.50 2.70h-3.00zM345.05 320.59l1.50 2.70h-3.00zM347.78 322.11l1.50 2.70h-3.00zM350.51 321.20l1.50 2.70h-3.00zM353.24 319.99l1.50 2.70h-3.00zM355.97 322.11l1.50 2.70h-3.00zM358.70 321.20l1.50 2.70h-3.00zM364.43 321.81l1.50 2.70h-3.00zM367.16 319.99l1.50 2.70h-3.00zM369.89 321.20l1.50 2.70h-3.00zM372.62 322.11l1.50 2.70h-3.00zM375.35 321.20l1.50 2.70h-3.00zM378.08 320.29l1.50 2.70h-3.00zM380.81 322.42l1.50 2.70h-3.00zM383.54 321.50l1.50 2.70h-3.00z" fill="#a02a42" stroke="none"/>
<path d="M244.04 359.24V358.37M243.04 359.24h2.00M243.04 358.37h2.00M246.77 351.13V350.10M245.77 351.13h2.00M245.77 350.10h2.00M249.50 346.42V345.40M248.50 346.42h2.00M248.50 345.40h2.00M252.23 343.41V342.04M251.23 343.41h2.00M251.23 342.04h2.00M254.96 341.86V340.86M253.96 341.86h2.00M253.96 340.86h2.00M257.69 340.32V339.37M256.69 340.32h2.00M256.69 339.37h2.00M260.42 339.41V337.85M259.42 339.41h2.00M259.42 337.85h2.00M263.15 336.11V334.78M262.15 336.11h2.00M262.15 334.78h2.00M265.88 334.02V332.92M264.88 334.02h2.00M264.88 332.92h2.00M268.61 334.62V333.23M267.61 334.62h2.00M267.61 333.23h2.00M271.34 333.55V332.48M270.34 333.55h2.00M270.34 332.48h2.00M274.07 334.20V332.75M273.07 334.20h2.00M273.07 332.75h2.00M276.80 331.95V330.14M275.80 331.95h2.00M275.80 330.14h2.00M279.53 330.41V328.65M278.53 330.41h2.00M278.53 328.65h2.00M282.26 329.00V327.33M281.26 329.00h2.00M281.26 327.33h2.00M284.99 327.33V325.96M283.99 327.33h2.00M283.99 325.96h2.00M287.72 323.89V322.42M286.72 323.89h2.00M286.72 322.42h2.00M290.45 322.76V321.42M289.45 322.76h2.00M289.45 321.42h2.00M293.18 322.42V320.56M292.18 322.42h2.00M292.18 320.56h2.00M295.91 319.15V317.45M294.91 319.15h2.00M294.91 317.45h2.00M298.64 317.60V315.67M297.64 317.60h2.00M297.64 315.67h2.00M301.37 316.51V314.93M300.37 316.51h2.00M300.37 314.93h2.00M304.10 316.94V315.42M303.10 316.94h2.00M303.10 315.42h2.00M306.83 313.57V311.50M305.83 313.57h2.00M305.83 311.50h2.00M309.56 312.15V309.89M308.56 312.15h2.00M308.56 309.89h2.00M312.29 311.65V309.48M311.29 311.65h2.00M311.29 309.48h2.00M315.02 314.84V312.67M314.02 314.84h2.00M314.02 312.67h2.00M317.75 310.00V307.79M316.75 310.00h2.00M316.75 307.79h2.00M320.48 309.07V306.90M319.48 309.07h2.00M319.48 306.90h2.00M323.21 307.93V306.23M322.21 307.93h2.00M322.21 306.23h2.00M325.94 309.45V307.43M324.94 309.45h2.00M324.94 307.43h2.00M328.67 306.64V304.78M327.67 306.64h2.00M327.67 304.78h2.00M331.40 305.26V303.73M330.40 305.26h2.00M330.40 303.73h2.00M334.13 306.17V304.64M333.13 306.17h2.00M333.13 304.64h2.00M336.86 307.21V305.43M335.86 307.21h2.00M335.86 305.43h2.00M339.59 308.11V306.35M338.59 308.11h2.00M338.59 306.35h2.00M342.32 306.81V304.61M341.32 306.81h2.00M341.32 304.61h2.00M345.05 306.03V303.57M344.05 306.03h2.00M344.05 303.57h2.00M347.78 304.87V302.92M346.78 304.87h2.00M346.78 302.92h2.00M350.51 304.50V302.06M349.51 304.50h2.00M349.51 302.06h2.00M353.24 303.92V301.43M352.24 303.92h2.00M352.24 301.43h2.00M355.97 303.30V300.84M354.97 303.30h2.00M354.97 300.84h2.00M358.70 303.31V301.44M357.70 303.31h2.00M357.70 301.44h2.00M364.43 302.32V300.60M363.43 302.32h2.00M363.43 300.60h2.00M367.16 301.72V299.99M366.16 301.72h2.00M366.16 299.99h2.00M369.89 301.10V299.40M368.89 301.10h2.00M368.89 299.40h2.00M372.62 301.56V299.85M371.62 301.56h2.00M371.62 299.85h2.00M375.35 301.01V298.88M374.35 301.01h2.00M374.35 298.88h2.00M378.08 300.24V297.83M377.08 300.24h2.00M377.08 297.83h2.00M380.81 300.81V298.47M379.81 300.81h2.00M379.81 298.47h2.00M383.54 300.33V298.35M382.54 300.33h2.00M382.54 298.35h2.00" fill="none" stroke="#3f5b8a" stroke-width="0.5"/>
<path d="M244.04 358.81 L246.77 350.61 L249.50 345.91 L252.23 342.73 L254.96 341.36 L257.69 339.84 L260.42 338.63 L263.15 335.44 L265.88 333.47 L268.61 333.93 L271.34 333.02 L274.07 333.47 L276.80 331.05 L279.53 329.53 L282.26 328.16 L284.99 326.65 L287.72 323.16 L290.45 322.09 L293.18 321.49 L295.91 318.30 L298.64 316.63 L301.37 315.72 L304.10 316.18 L306.83 312.54 L309.56 311.02 L312.29 310.57 L315.02 313.75 L317.75 308.90 L320.48 307.99 L323.21 307.08 L325.94 308.44 L328.67 305.71 L331.40 304.50 L334.13 305.41 L336.86 306.32 L339.59 307.23 L342.32 305.71 L345.05 304.80 L347.78 303.89 L350.51 303.28 L353.24 302.68 L355.97 302.07 L358.70 302.37" fill="none" stroke="#3f5b8a" stroke-width="1.6" stroke-linejoin="round"/>
<path d="M364.43 301.46 L367.16 300.86 L369.89 300.25 L372.62 300.71 L375.35 299.95 L378.08 299.04 L380.81 299.64 L383.54 299.34" fill="none" stroke="#3f5b8a" stroke-width="1.6" stroke-linejoin="round"/>
<path d="M242.59 357.36h2.90v2.90h-2.90zM245.32 349.16h2.90v2.90h-2.90zM248.05 344.46h2.90v2.90h-2.90zM250.78 341.28h2.90v2.90h-2.90zM253.51 339.91h2.90v2.90h-2.90zM256.24 338.39h2.90v2.90h-2.90zM258.97 337.18h2.90v2.90h-2.90zM261.70 333.99h2.90v2.90h-2.90zM264.43 332.02h2.90v2.90h-2.90zM267.16 332.48h2.90v2.90h-2.90zM269.89 331.57h2.90v2.90h-2.90zM272.62 332.02h2.90v2.90h-2.90zM275.35 329.60h2.90v2.90h-2.90zM278.08 328.08h2.90v2.90h-2.90zM280.81 326.71h2.90v2.90h-2.90zM283.54 325.20h2.90v2.90h-2.90zM286.27 321.71h2.90v2.90h-2.90zM289.00 320.64h2.90v2.90h-2.90zM291.73 320.04h2.90v2.90h-2.90zM294.46 316.85h2.90v2.90h-2.90zM297.19 315.18h2.90v2.90h-2.90zM299.92 314.27h2.90v2.90h-2.90zM302.65 314.73h2.90v2.90h-2.90zM305.38 311.09h2.90v2.90h-2.90zM308.11 309.57h2.90v2.90h-2.90zM310.84 309.12h2.90v2.90h-2.90zM313.57 312.30h2.90v2.90h-2.90zM316.30 307.45h2.90v2.90h-2.90zM319.03 306.54h2.90v2.90h-2.90zM321.76 305.63h2.90v2.90h-2.90zM324.49 306.99h2.90v2.90h-2.90zM327.22 304.26h2.90v2.90h-2.90zM329.95 303.05h2.90v2.90h-2.90zM332.68 303.96h2.90v2.90h-2.90zM335.41 304.87h2.90v2.90h-2.90zM338.14 305.78h2.90v2.90h-2.90zM340.87 304.26h2.90v2.90h-2.90zM343.60 303.35h2.90v2.90h-2.90zM346.33 302.44h2.90v2.90h-2.90zM349.06 301.83h2.90v2.90h-2.90zM351.79 301.23h2.90v2.90h-2.90zM354.52 300.62h2.90v2.90h-2.90zM357.25 300.92h2.90v2.90h-2.90zM362.98 300.01h2.90v2.90h-2.90zM365.71 299.41h2.90v2.90h-2.90zM368.44 298.80h2.90v2.90h-2.90zM371.17 299.26h2.90v2.90h-2.90zM373.90 298.50h2.90v2.90h-2.90zM376.63 297.59h2.90v2.90h-2.90zM379.36 298.19h2.90v2.90h-2.90zM382.09 297.89h2.90v2.90h-2.90z" fill="#3f5b8a" stroke="none"/>
<line x1="48.20" y1="433.00" x2="48.20" y2="524.80" stroke="#1a1a1a" stroke-width="1.2"/>
<line x1="47.60" y1="524.20" x2="141.40" y2="524.20" stroke="#1a1a1a" stroke-width="1.2"/>
<line x1="45.70" y1="524.20" x2="48.20" y2="524.20" stroke="#231f20" stroke-width="1.0"/>
<text x="43.60" y="527.08" font-size="8" text-anchor="end" textLength="4.00" lengthAdjust="spacingAndGlyphs">0</text>
<line x1="45.70" y1="509.42" x2="48.20" y2="509.42" stroke="#231f20" stroke-width="1.0"/>
<text x="43.60" y="512.30" font-size="8" text-anchor="end" textLength="8.01" lengthAdjust="spacingAndGlyphs">10</text>
<line x1="45.70" y1="494.64" x2="48.20" y2="494.64" stroke="#231f20" stroke-width="1.0"/>
<text x="43.60" y="497.52" font-size="8" text-anchor="end" textLength="8.01" lengthAdjust="spacingAndGlyphs">20</text>
<line x1="45.70" y1="479.86" x2="48.20" y2="479.86" stroke="#231f20" stroke-width="1.0"/>
<text x="43.60" y="482.74" font-size="8" text-anchor="end" textLength="8.01" lengthAdjust="spacingAndGlyphs">30</text>
<line x1="45.70" y1="465.08" x2="48.20" y2="465.08" stroke="#231f20" stroke-width="1.0"/>
<text x="43.60" y="467.96" font-size="8" text-anchor="end" textLength="8.01" lengthAdjust="spacingAndGlyphs">40</text>
<line x1="45.70" y1="450.30" x2="48.20" y2="450.30" stroke="#231f20" stroke-width="1.0"/>
<text x="43.60" y="453.18" font-size="8" text-anchor="end" textLength="8.01" lengthAdjust="spacingAndGlyphs">50</text>
<line x1="45.70" y1="435.52" x2="48.20" y2="435.52" stroke="#231f20" stroke-width="1.0"/>
<text x="43.60" y="438.40" font-size="8" text-anchor="end" textLength="8.01" lengthAdjust="spacingAndGlyphs">60</text>
<line x1="77.90" y1="524.20" x2="77.90" y2="526.70" stroke="#231f20" stroke-width="1.0"/>
<line x1="108.20" y1="524.20" x2="108.20" y2="526.70" stroke="#231f20" stroke-width="1.0"/>
<line x1="139.30" y1="524.20" x2="139.30" y2="526.70" stroke="#231f20" stroke-width="1.0"/>
<line x1="57.07" y1="496.00" x2="57.07" y2="498.50" stroke="#262626" stroke-width="0.9"/>
<line x1="55.87" y1="496.20" x2="58.27" y2="496.20" stroke="#262626" stroke-width="0.9"/>
<rect x="53.80" y="498.00" width="6.55" height="26.20" fill="#74a957"/>
<line x1="63.62" y1="496.00" x2="63.62" y2="498.50" stroke="#262626" stroke-width="0.9"/>
<line x1="62.42" y1="496.20" x2="64.82" y2="496.20" stroke="#262626" stroke-width="0.9"/>
<rect x="60.35" y="498.00" width="6.55" height="26.20" fill="#47628f"/>
<line x1="70.17" y1="494.00" x2="70.17" y2="496.50" stroke="#262626" stroke-width="0.9"/>
<line x1="68.97" y1="494.20" x2="71.37" y2="494.20" stroke="#262626" stroke-width="0.9"/>
<rect x="66.90" y="496.00" width="6.55" height="28.20" fill="#a32c45"/>
<line x1="86.47" y1="460.30" x2="86.47" y2="463.70" stroke="#262626" stroke-width="0.9"/>
<line x1="85.27" y1="460.50" x2="87.67" y2="460.50" stroke="#262626" stroke-width="0.9"/>
<rect x="83.20" y="463.20" width="6.55" height="61.00" fill="#74a957"/>
<line x1="93.03" y1="458.50" x2="93.03" y2="461.40" stroke="#262626" stroke-width="0.9"/>
<line x1="91.83" y1="458.70" x2="94.23" y2="458.70" stroke="#262626" stroke-width="0.9"/>
<rect x="89.75" y="460.90" width="6.55" height="63.30" fill="#47628f"/>
<line x1="99.57" y1="467.20" x2="99.57" y2="471.60" stroke="#262626" stroke-width="0.9"/>
<line x1="98.37" y1="467.40" x2="100.77" y2="467.40" stroke="#262626" stroke-width="0.9"/>
<rect x="96.30" y="471.10" width="6.55" height="53.10" fill="#a32c45"/>
<line x1="116.38" y1="447.50" x2="116.38" y2="451.00" stroke="#262626" stroke-width="0.9"/>
<line x1="115.17" y1="447.70" x2="117.58" y2="447.70" stroke="#262626" stroke-width="0.9"/>
<rect x="113.10" y="450.50" width="6.55" height="73.70" fill="#74a957"/>
<line x1="122.92" y1="455.40" x2="122.92" y2="457.80" stroke="#262626" stroke-width="0.9"/>
<line x1="121.72" y1="455.60" x2="124.12" y2="455.60" stroke="#262626" stroke-width="0.9"/>
<rect x="119.65" y="457.30" width="6.55" height="66.90" fill="#47628f"/>
<line x1="129.47" y1="463.20" x2="129.47" y2="470.00" stroke="#262626" stroke-width="0.9"/>
<line x1="128.28" y1="463.40" x2="130.67" y2="463.40" stroke="#262626" stroke-width="0.9"/>
<rect x="126.20" y="469.50" width="6.55" height="54.70" fill="#a32c45"/>
<line x1="47.70" y1="524.20" x2="141.40" y2="524.20" stroke="#1a1a1a" stroke-width="1.2"/>
<text x="62.90" y="537.60" font-size="8" text-anchor="middle" textLength="4.20" lengthAdjust="spacingAndGlyphs">2</text>
<text x="92.90" y="537.60" font-size="8" text-anchor="middle" textLength="4.20" lengthAdjust="spacingAndGlyphs">6</text>
<text x="123.20" y="537.60" font-size="8" text-anchor="middle" textLength="8.60" lengthAdjust="spacingAndGlyphs">12</text>
<text x="92.80" y="550.20" font-size="9" text-anchor="middle" textLength="53.60" lengthAdjust="spacingAndGlyphs">Age (months)</text>
<text x="27.90" y="480.00" font-size="9" text-anchor="middle" textLength="28.00" lengthAdjust="spacingAndGlyphs" transform="rotate(-90 27.90 480.00)">Fat (%)</text>
<line x1="56.10" y1="486.40" x2="63.60" y2="486.40" stroke="#303030" stroke-width="1.2"/>
<text x="60.00" y="484.70" font-size="7" text-anchor="middle" textLength="6.80" lengthAdjust="spacingAndGlyphs" style="stroke-width:0.12px;">ns</text>
<line x1="56.10" y1="474.40" x2="68.90" y2="474.40" stroke="#303030" stroke-width="1.2"/>
<text x="62.60" y="472.70" font-size="7" text-anchor="middle" textLength="6.80" lengthAdjust="spacingAndGlyphs" style="stroke-width:0.12px;">ns</text>
<line x1="85.20" y1="455.00" x2="93.00" y2="455.00" stroke="#303030" stroke-width="1.2"/>
<text x="89.40" y="452.80" font-size="7" text-anchor="middle" textLength="6.80" lengthAdjust="spacingAndGlyphs" style="stroke-width:0.12px;">ns</text>
<line x1="85.20" y1="443.00" x2="98.30" y2="443.00" stroke="#303030" stroke-width="1.2"/>
<text x="92.00" y="440.20" font-size="7" text-anchor="middle" textLength="24.40" lengthAdjust="spacingAndGlyphs" style="stroke-width:0.12px;">P &lt; 0.05</text>
<line x1="115.60" y1="443.60" x2="123.10" y2="443.60" stroke="#303030" stroke-width="1.2"/>
<text x="119.40" y="441.40" font-size="7" text-anchor="middle" textLength="6.80" lengthAdjust="spacingAndGlyphs" style="stroke-width:0.12px;">ns</text>
<line x1="115.60" y1="432.20" x2="129.40" y2="432.20" stroke="#303030" stroke-width="1.2"/>
<text x="122.80" y="429.20" font-size="7" text-anchor="middle" textLength="24.40" lengthAdjust="spacingAndGlyphs" style="stroke-width:0.12px;">P &lt; 0.01</text>
<line x1="241.30" y1="431.60" x2="241.30" y2="524.80" stroke="#1a1a1a" stroke-width="1.2"/>
<line x1="240.70" y1="524.20" x2="335.60" y2="524.20" stroke="#1a1a1a" stroke-width="1.2"/>
<line x1="238.80" y1="524.20" x2="241.30" y2="524.20" stroke="#231f20" stroke-width="1.0"/>
<text x="236.60" y="527.08" font-size="8" text-anchor="end" textLength="4.00" lengthAdjust="spacingAndGlyphs">0</text>
<line x1="238.80" y1="506.22" x2="241.30" y2="506.22" stroke="#231f20" stroke-width="1.0"/>
<text x="236.60" y="509.10" font-size="8" text-anchor="end" textLength="10.01" lengthAdjust="spacingAndGlyphs">0.2</text>
<line x1="238.80" y1="488.24" x2="241.30" y2="488.24" stroke="#231f20" stroke-width="1.0"/>
<text x="236.60" y="491.12" font-size="8" text-anchor="end" textLength="10.01" lengthAdjust="spacingAndGlyphs">0.4</text>
<line x1="238.80" y1="470.26" x2="241.30" y2="470.26" stroke="#231f20" stroke-width="1.0"/>
<text x="236.60" y="473.14" font-size="8" text-anchor="end" textLength="10.01" lengthAdjust="spacingAndGlyphs">0.6</text>
<line x1="238.80" y1="452.28" x2="241.30" y2="452.28" stroke="#231f20" stroke-width="1.0"/>
<text x="236.60" y="455.16" font-size="8" text-anchor="end" textLength="10.01" lengthAdjust="spacingAndGlyphs">0.8</text>
<line x1="238.80" y1="434.30" x2="241.30" y2="434.30" stroke="#231f20" stroke-width="1.0"/>
<text x="236.60" y="437.18" font-size="8" text-anchor="end" textLength="4.00" lengthAdjust="spacingAndGlyphs">1</text>
<line x1="271.40" y1="524.20" x2="271.40" y2="526.70" stroke="#231f20" stroke-width="1.0"/>
<line x1="301.70" y1="524.20" x2="301.70" y2="526.70" stroke="#231f20" stroke-width="1.0"/>
<line x1="333.40" y1="524.20" x2="333.40" y2="526.70" stroke="#231f20" stroke-width="1.0"/>
<line x1="250.18" y1="465.40" x2="250.18" y2="471.90" stroke="#262626" stroke-width="0.9"/>
<line x1="248.98" y1="465.60" x2="251.38" y2="465.60" stroke="#262626" stroke-width="0.9"/>
<rect x="246.90" y="471.40" width="6.55" height="52.80" fill="#74a957"/>
<line x1="256.73" y1="467.10" x2="256.73" y2="473.40" stroke="#262626" stroke-width="0.9"/>
<line x1="255.53" y1="467.30" x2="257.93" y2="467.30" stroke="#262626" stroke-width="0.9"/>
<rect x="253.45" y="472.90" width="6.55" height="51.30" fill="#47628f"/>
<line x1="263.27" y1="475.80" x2="263.27" y2="481.70" stroke="#262626" stroke-width="0.9"/>
<line x1="262.07" y1="476.00" x2="264.47" y2="476.00" stroke="#262626" stroke-width="0.9"/>
<rect x="260.00" y="481.20" width="6.55" height="43.00" fill="#a32c45"/>
<line x1="279.88" y1="454.10" x2="279.88" y2="462.40" stroke="#262626" stroke-width="0.9"/>
<line x1="278.68" y1="454.30" x2="281.07" y2="454.30" stroke="#262626" stroke-width="0.9"/>
<rect x="276.60" y="461.90" width="6.55" height="62.30" fill="#74a957"/>
<line x1="286.43" y1="460.50" x2="286.43" y2="465.00" stroke="#262626" stroke-width="0.9"/>
<line x1="285.23" y1="460.70" x2="287.63" y2="460.70" stroke="#262626" stroke-width="0.9"/>
<rect x="283.15" y="464.50" width="6.55" height="59.70" fill="#47628f"/>
<line x1="292.98" y1="465.40" x2="292.98" y2="470.20" stroke="#262626" stroke-width="0.9"/>
<line x1="291.78" y1="465.60" x2="294.18" y2="465.60" stroke="#262626" stroke-width="0.9"/>
<rect x="289.70" y="469.70" width="6.55" height="54.50" fill="#a32c45"/>
<line x1="309.88" y1="449.50" x2="309.88" y2="458.40" stroke="#262626" stroke-width="0.9"/>
<line x1="308.68" y1="449.70" x2="311.07" y2="449.70" stroke="#262626" stroke-width="0.9"/>
<rect x="306.60" y="457.90" width="6.55" height="66.30" fill="#74a957"/>
<line x1="316.43" y1="457.60" x2="316.43" y2="464.10" stroke="#262626" stroke-width="0.9"/>
<line x1="315.23" y1="457.80" x2="317.63" y2="457.80" stroke="#262626" stroke-width="0.9"/>
<rect x="313.15" y="463.60" width="6.55" height="60.60" fill="#47628f"/>
<line x1="322.98" y1="463.40" x2="322.98" y2="471.90" stroke="#262626" stroke-width="0.9"/>
<line x1="321.78" y1="463.60" x2="324.18" y2="463.60" stroke="#262626" stroke-width="0.9"/>
<rect x="319.70" y="471.40" width="6.55" height="52.80" fill="#a32c45"/>
<line x1="240.80" y1="524.20" x2="335.60" y2="524.20" stroke="#1a1a1a" stroke-width="1.2"/>
<text x="256.40" y="537.60" font-size="8" text-anchor="middle" textLength="4.20" lengthAdjust="spacingAndGlyphs">3</text>
<text x="286.40" y="537.60" font-size="8" text-anchor="middle" textLength="4.20" lengthAdjust="spacingAndGlyphs">6</text>
<text x="316.10" y="537.60" font-size="8" text-anchor="middle" textLength="8.60" lengthAdjust="spacingAndGlyphs">12</text>
<text x="286.20" y="550.20" font-size="9" text-anchor="middle" textLength="53.60" lengthAdjust="spacingAndGlyphs">Age (months)</text>
<text x="218.70" y="479.50" font-size="9" text-anchor="middle" textLength="74.40" lengthAdjust="spacingAndGlyphs" transform="rotate(-90 218.70 479.50)">Bone mass density</text>
<line x1="248.90" y1="462.80" x2="256.40" y2="462.80" stroke="#303030" stroke-width="1.2"/>
<text x="252.80" y="460.60" font-size="7" text-anchor="middle" textLength="6.80" lengthAdjust="spacingAndGlyphs" style="stroke-width:0.12px;">ns</text>
<line x1="248.90" y1="450.40" x2="262.80" y2="450.40" stroke="#303030" stroke-width="1.2"/>
<text x="258.00" y="448.00" font-size="7" text-anchor="middle" textLength="24.40" lengthAdjust="spacingAndGlyphs" style="stroke-width:0.12px;">P &lt; 0.01</text>
<line x1="278.60" y1="450.40" x2="286.40" y2="450.40" stroke="#303030" stroke-width="1.2"/>
<text x="282.40" y="448.20" font-size="7" text-anchor="middle" textLength="6.80" lengthAdjust="spacingAndGlyphs" style="stroke-width:0.12px;">ns</text>
<line x1="278.60" y1="438.30" x2="292.50" y2="438.30" stroke="#303030" stroke-width="1.2"/>
<text x="285.80" y="435.90" font-size="7" text-anchor="middle" textLength="24.40" lengthAdjust="spacingAndGlyphs" style="stroke-width:0.12px;">P &lt; 0.05</text>
<line x1="309.50" y1="445.80" x2="317.60" y2="445.80" stroke="#303030" stroke-width="1.2"/>
<text x="313.20" y="443.60" font-size="7" text-anchor="middle" textLength="6.80" lengthAdjust="spacingAndGlyphs" style="stroke-width:0.12px;">ns</text>
<line x1="309.50" y1="433.70" x2="322.80" y2="433.70" stroke="#303030" stroke-width="1.2"/>
<text x="317.60" y="431.30" font-size="7" text-anchor="middle" textLength="24.40" lengthAdjust="spacingAndGlyphs" style="stroke-width:0.12px;">P &lt; 0.05</text>
<rect x="341.45" y="439.45" width="10.50" height="8.20" fill="#74a957" stroke="#5f9a40" stroke-width="0.5"/>
<g transform="translate(354.20 446.90)">
<text x="0" y="0" font-size="8.8" textLength="10.90" lengthAdjust="spacingAndGlyphs" font-weight="normal" style="stroke-width:0.4px">Efl1</text>
<text x="13.20" y="-3.90" font-size="5.2" textLength="8.00" lengthAdjust="spacingAndGlyphs" style="stroke-width:0.05px" fill="#333">+/+</text>
</g>
<rect x="341.45" y="453.85" width="10.50" height="8.20" fill="#47628f" stroke="#33508a" stroke-width="0.5"/>
<g transform="translate(354.20 461.30)">
<text x="0" y="0" font-size="8.8" textLength="10.90" lengthAdjust="spacingAndGlyphs" font-weight="normal" style="stroke-width:0.4px">Efl1</text>
<text x="13.20" y="-3.90" font-size="5.2" textLength="18.60" lengthAdjust="spacingAndGlyphs" style="stroke-width:0.05px" fill="#333">K983R/+</text>
</g>
<rect x="341.45" y="468.55" width="10.50" height="8.20" fill="#a32c45" stroke="#9c1c34" stroke-width="0.5"/>
<g transform="translate(354.20 476.00)">
<text x="0" y="0" font-size="8.8" textLength="10.90" lengthAdjust="spacingAndGlyphs" font-weight="normal" style="stroke-width:0.4px">Efl1</text>
<text x="13.20" y="-3.90" font-size="5.2" textLength="29.80" lengthAdjust="spacingAndGlyphs" style="stroke-width:0.05px" fill="#333">K983R/K983R</text>
</g>
</svg>
</body>
</html>
